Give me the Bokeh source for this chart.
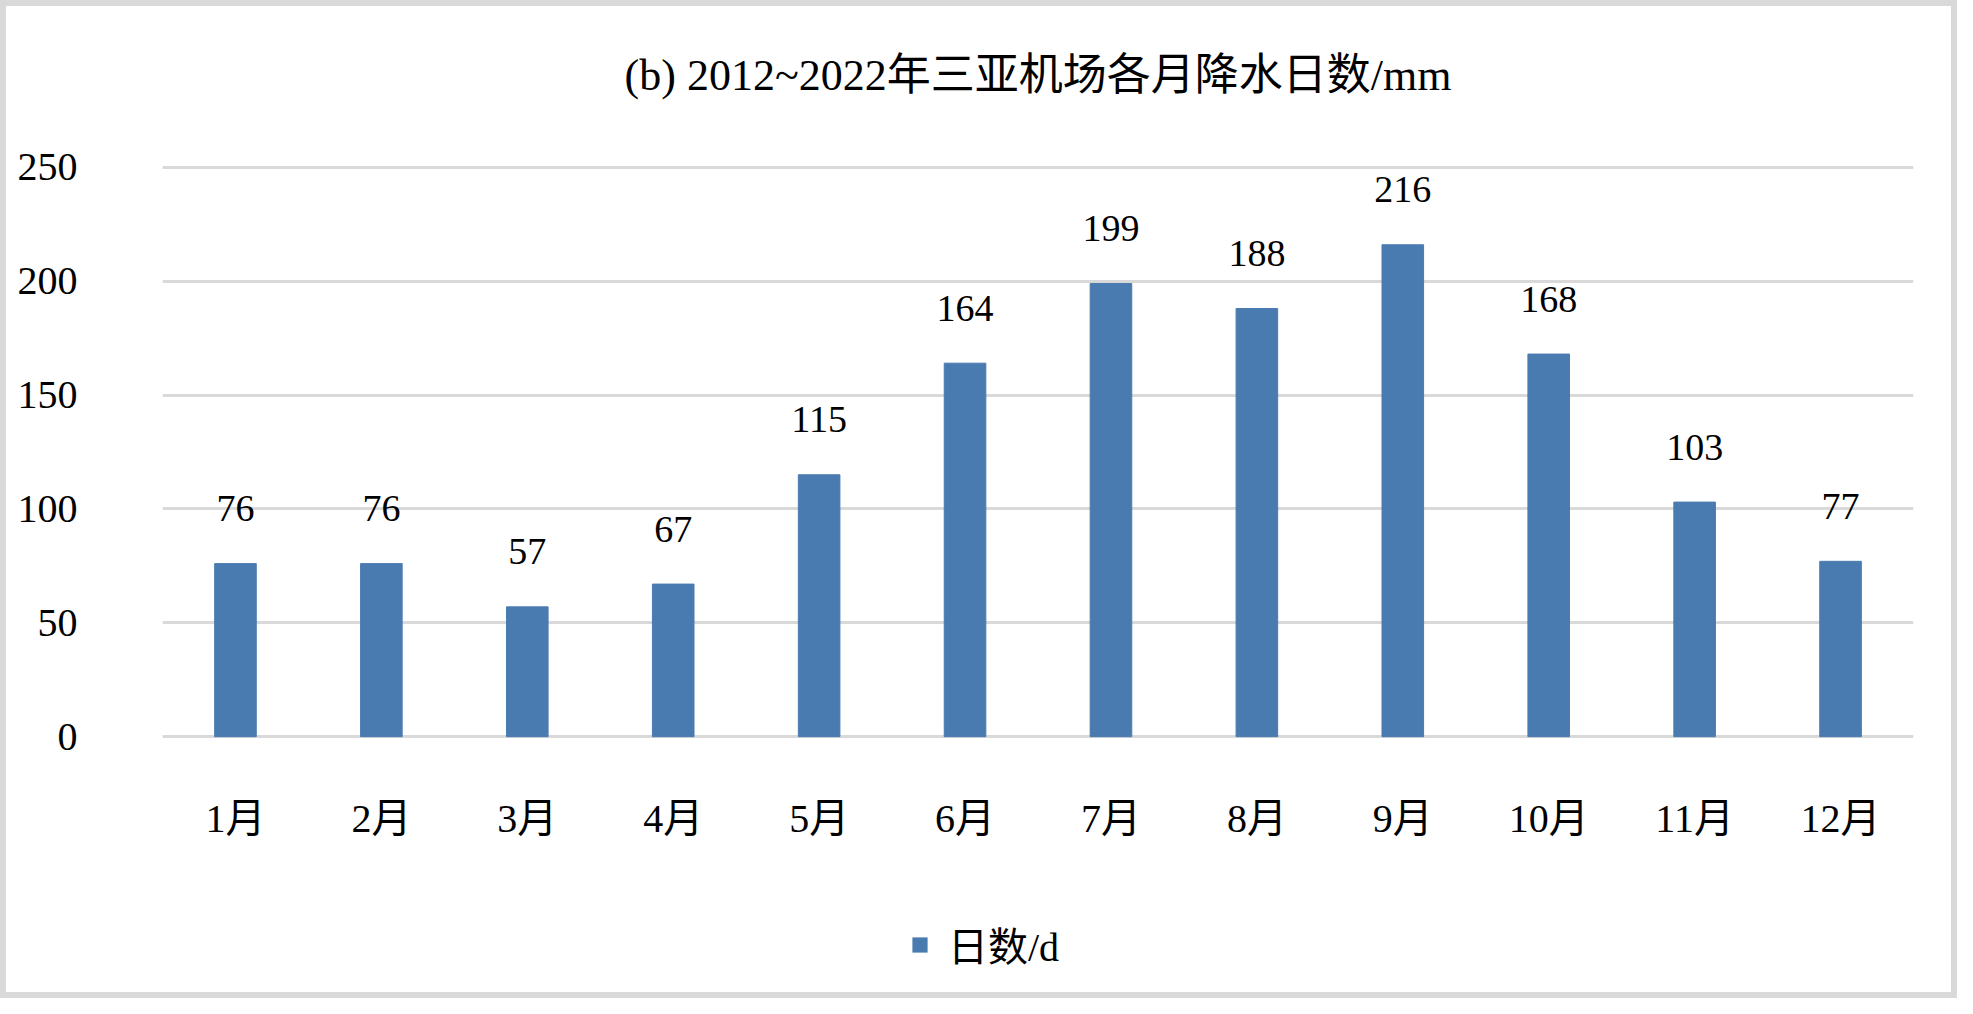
from bokeh.plotting import figure
from bokeh.layouts import column
from bokeh.models import Range1d, FactorRange, Legend, LegendItem, FixedTicker
from bokeh.core.properties import value
from bokeh.embed import file_html
from bokeh.resources import INLINE

months = ["1月", "2月", "3月", "4月", "5月", "6月", "7月", "8月", "9月", "10月", "11月", "12月"]
days = [76, 76, 57, 67, 115, 164, 199, 188, 216, 168, 103, 77]
day_labels = [str(v) for v in days]
y_ticks = [0, 50, 100, 150, 200, 250]
title_text = "(b) 2012~2022年三亚机场各月降水日数/mm"
legend_text = "日数/d"

FONT = "'Liberation Serif', 'Noto Sans CJK SC', serif"
BAR = "#4a7bb0"
GRID = "#d9d9d9"
EDGE = "6px solid #d9d9d9"

W = 1957
H_TOP = 120
H_MAIN = 758
H_LEG = 120

# title strip
tp = figure(
    title=title_text,
    x_range=Range1d(0, 1), y_range=Range1d(0, 1),
    width=W, height=H_TOP,
    output_backend="svg", toolbar_location=None,
    x_axis_type=None, y_axis_type=None,
    min_border_left=145, min_border_right=50,
    min_border_top=98, min_border_bottom=0,
)
tp.styles = {"border-top": EDGE, "border-left": EDGE, "border-right": EDGE}
tp.outline_line_color = None
tp.xgrid.visible = False
tp.ygrid.visible = False
tp.title.align = "center"
tp.title.text_font = FONT
tp.title.text_font_size = "44px"
tp.title.text_font_style = "normal"
tp.title.text_color = "black"
tp.title.standoff = 10

# main chart
p = figure(
    title=None,
    x_range=FactorRange(*months, range_padding=0),
    y_range=Range1d(-0.8, 250.8),
    width=W, height=H_MAIN,
    output_backend="svg", toolbar_location=None,
    min_border_left=156, min_border_right=50,
    min_border_top=45, min_border_bottom=140,
)
p.styles = {"border-left": EDGE, "border-right": EDGE}
p.outline_line_color = None

p.xgrid.visible = False
p.ygrid.grid_line_color = GRID
p.ygrid.grid_line_width = 3
p.ygrid.ticker = FixedTicker(ticks=y_ticks)

p.yaxis.ticker = FixedTicker(ticks=y_ticks)
for ax in (p.xaxis, p.yaxis):
    ax.axis_line_color = None
    ax.major_tick_line_color = None
    ax.minor_tick_line_color = None
    ax.major_label_text_font = FONT
    ax.major_label_text_font_size = "40px"
    ax.major_label_text_color = "black"
p.yaxis.major_label_standoff = 79
p.xaxis.major_label_standoff = 51

r = p.vbar(x=months, top=days, width=0.285, color=BAR)
p.text(x=months, y=days, text=day_labels, text_align="center",
       text_baseline="alphabetic", y_offset=-55,
       text_font=value(FONT), text_font_size="38px", text_color="black")

# legend strip below the chart (zero-height proxy bars outside its view; only the legend shows)
lp = figure(
    x_range=FactorRange(*months), y_range=Range1d(1000, 1001),
    width=W, height=H_LEG,
    output_backend="svg", toolbar_location=None,
    x_axis_type=None, y_axis_type=None,
    min_border=0, min_border_left=0, min_border_right=0,
    min_border_top=0, min_border_bottom=0,
)
lp.styles = {"border-bottom": EDGE, "border-left": EDGE, "border-right": EDGE}
lp.outline_line_color = None
lp.xgrid.visible = False
lp.ygrid.visible = False
lr = lp.vbar(x=months, top=days, bottom=days, width=0.285,
             fill_color=BAR, line_alpha=0)

legend = Legend(items=[LegendItem(label=legend_text, renderers=[lr])],
                location=(748, 25), orientation="horizontal",
                border_line_color=None, background_fill_alpha=0,
                label_text_font=FONT, label_text_font_size="40px",
                label_text_color="black",
                glyph_width=19, glyph_height=19, label_standoff=19,
                margin=0, padding=0)
lp.add_layout(legend, "center")

layout = column(tp, p, lp, spacing=0)
open("out.html", "w").write(file_html(layout, INLINE))
